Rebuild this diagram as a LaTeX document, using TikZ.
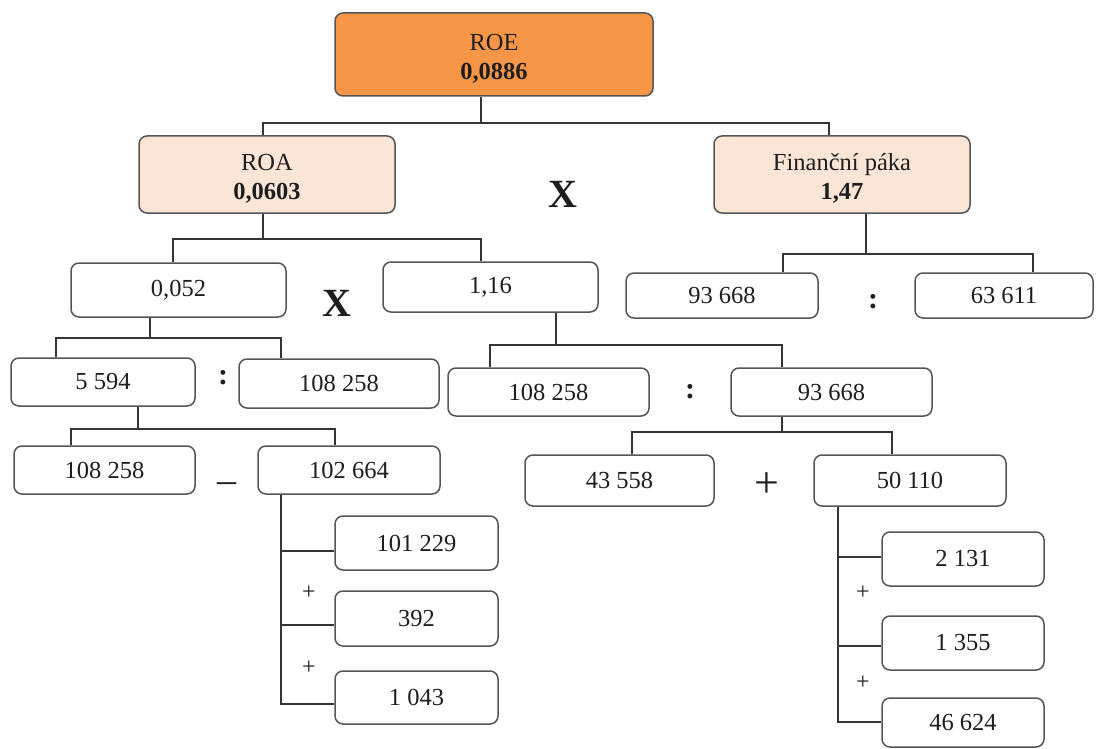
\documentclass[tikz,border=0pt]{standalone}
\usepackage{fontspec}
\setmainfont{Liberation Serif}
\definecolor{roeorange}{HTML}{F79646}
\definecolor{peach}{HTML}{FBE5D6}
\definecolor{edge}{HTML}{555555}
\definecolor{ink}{HTML}{1E1E1E}
\newcommand{\toppad}{\rule{0pt}{24pt}}
\begin{document}
\begin{tikzpicture}[x=1pt,y=-1pt,
  box/.style={draw=edge, line width=1.5pt, rounded corners=8pt, fill=white, inner sep=0pt,
    align=center, text=ink, font=\fontsize{24.5}{29}\selectfont},
  conn/.style={draw=ink!90, line width=1.4pt},
  opbig/.style={inner sep=0pt, text=ink, font=\fontsize{40}{40}\selectfont\bfseries},
  opcolon/.style={inner sep=0pt, text=ink, font=\fontsize{30}{30}\selectfont\bfseries},
  opsmall/.style={inner sep=0pt, text=ink, font=\fontsize{24}{24}\selectfont},
]
\useasboundingbox (0,0) rectangle (1097,749);
\fill[white] (0,0) rectangle (1097,749);

% level 0
\node[box, fill=roeorange, minimum width=318, minimum height=83] (roe) at (494,54.5) {\toppad ROE\\\textbf{0,0886}};
% level 1
\node[box, fill=peach, minimum width=256, minimum height=77] (roa) at (267,174.5) {\toppad ROA\\\textbf{0,0603}};
\node[box, fill=peach, minimum width=256, minimum height=77] (fin) at (842,174.5) {\toppad Finanční páka\\\textbf{1,47}};
% level 2
\node[box, minimum width=215, minimum height=54] (a1) at (178.5,290) {0,052};
\node[box, minimum width=215, minimum height=50] (a2) at (490.5,287) {1,16};
\node[box, minimum width=192, minimum height=45] (f1) at (722,295.5) {93 668};
\node[box, minimum width=178, minimum height=45] (f2) at (1004,295.5) {63 611};
% level 3
\node[box, minimum width=184, minimum height=48] (b1) at (103,382) {5 594};
\node[box, minimum width=200, minimum height=49] (b2) at (339,383.5) {108 258};
\node[box, minimum width=201, minimum height=48] (c1) at (548.5,392) {108 258};
\node[box, minimum width=201, minimum height=48] (c2) at (831.5,392) {93 668};
% level 4
\node[box, minimum width=181, minimum height=48] (d1) at (104.5,470) {108 258};
\node[box, minimum width=182, minimum height=48] (d2) at (349,470) {102 664};
\node[box, minimum width=189, minimum height=51] (g1) at (619.5,480.5) {43 558};
\node[box, minimum width=192, minimum height=51] (g2) at (910,480.5) {50 110};
% level 5
\node[box, minimum width=163, minimum height=54] (e1) at (416.5,543) {101 229};
\node[box, minimum width=163, minimum height=55] (e2) at (416.5,618.5) {392};
\node[box, minimum width=163, minimum height=53] (e3) at (416.5,697.5) {1 043};
\node[box, minimum width=162, minimum height=54] (h1) at (963,559) {2 131};
\node[box, minimum width=162, minimum height=54] (h2) at (963,643) {1 355};
\node[box, minimum width=162, minimum height=49] (h3) at (963,722.5) {46 624};

% connectors
\draw[conn] (481,0 |- roe.south) -- (481,123);
\draw[conn] (263,0 |- roa.north) |- (829,123) -- (829,0 |- fin.north);

\draw[conn] (263,0 |- roa.south) -- (263,239);
\draw[conn] (173,0 |- a1.north) |- (481,239) -- (481,0 |- a2.north);

\draw[conn] (866,0 |- fin.south) -- (866,254);
\draw[conn] (783,0 |- f1.north) |- (1033,254) -- (1033,0 |- f2.north);

\draw[conn] (150,0 |- a1.south) -- (150,338);
\draw[conn] (56,0 |- b1.north) |- (281,338) -- (281,0 |- b2.north);

\draw[conn] (556,0 |- a2.south) -- (556,345);
\draw[conn] (490,0 |- c1.north) |- (782,345) -- (782,0 |- c2.north);

\draw[conn] (138,0 |- b1.south) -- (138,429);
\draw[conn] (71,0 |- d1.north) |- (335,429) -- (335,0 |- d2.north);

\draw[conn] (782,0 |- c2.south) -- (782,432);
\draw[conn] (632,0 |- g1.north) |- (892,432) -- (892,0 |- g2.north);

\draw[conn] (281,0 |- d2.south) |- (e3.west |- 0,704);
\draw[conn] (281,551) -- (e1.west |- 0,551);
\draw[conn] (281,625) -- (e2.west |- 0,625);

\draw[conn] (838,0 |- g2.south) |- (h3.west |- 0,722);
\draw[conn] (838,557) -- (h1.west |- 0,557);
\draw[conn] (838,646) -- (h2.west |- 0,646);

% operators
\node[opbig] (x1) at (563,194) {X};
\node[opbig] (x2) at (337,303) {X};
\node[opcolon] (k1) at (223,378) {:};
\node[opcolon] (k2) at (690,392) {:};
\node[opcolon] (k3) at (873,302) {:};
\node[inner sep=0pt, text=ink, font=\fontsize{38}{38}\selectfont] (m1) at (227,488) {–};
\node[inner sep=0pt, text=ink, font=\fontsize{44}{44}\selectfont] (p0) at (767,485) {+};
\node[opsmall] (p1) at (309,593) {+};
\node[opsmall] (p2) at (309,668) {+};
\node[opsmall] (p3) at (863,593) {+};
\node[opsmall] (p4) at (863,683) {+};
\end{tikzpicture}
\end{document}
